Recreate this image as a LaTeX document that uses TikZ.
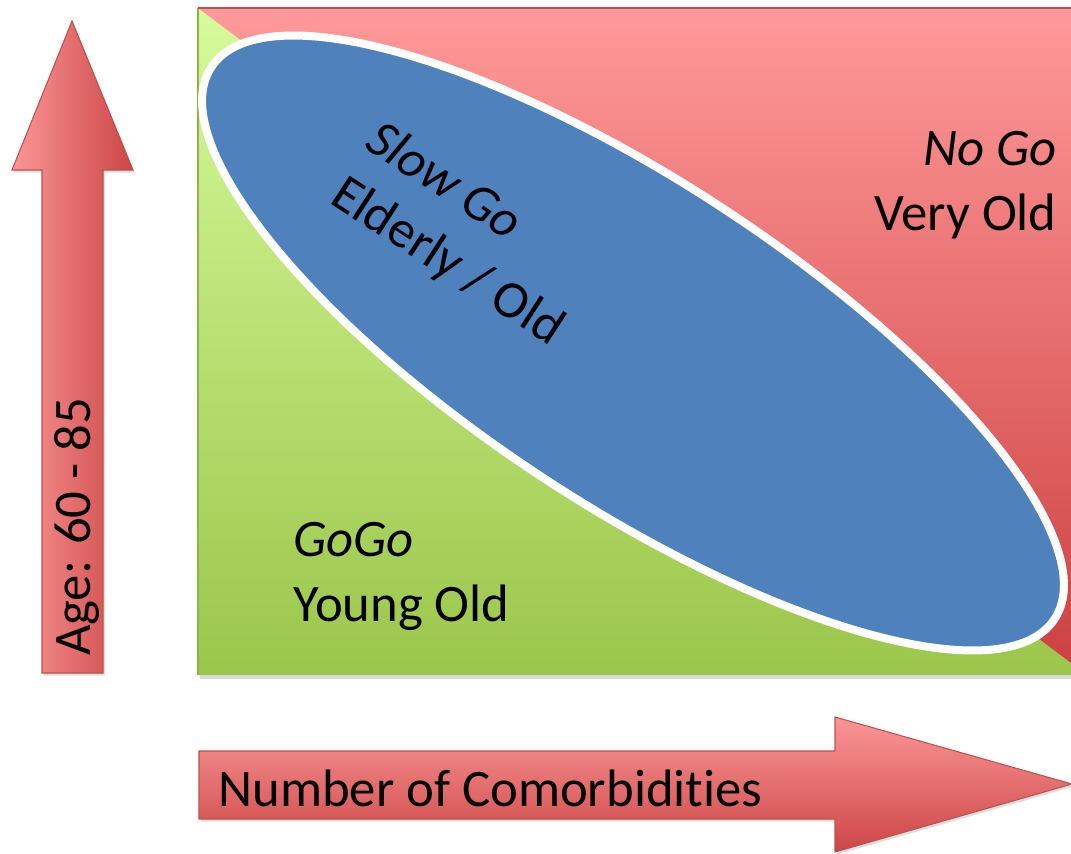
\documentclass[tikz,border=0pt]{standalone}
\usepackage{fontspec}
\setmainfont{Carlito}[RawFeature={-liga;-clig;-dlig;-rlig;-calt}]
\usetikzlibrary{shapes.geometric,shadows}
\definecolor{greentop}{RGB}{215,250,155}
\definecolor{greenbot}{RGB}{155,198,75}
\definecolor{greenedge}{RGB}{140,180,75}
\definecolor{redtop}{RGB}{255,153,153}
\definecolor{redmid}{RGB}{244,136,136}
\definecolor{redbot}{RGB}{204,64,64}
\definecolor{rededge}{RGB}{192,80,77}
\definecolor{arrowlight}{RGB}{250,150,150}
\definecolor{arrowmid}{RGB}{236,128,128}
\definecolor{arrowdark}{RGB}{204,70,70}
\definecolor{ellblue}{RGB}{79,129,189}
\begin{document}
\begin{tikzpicture}[x=0.02cm,y=-0.02cm]
\tikzstyle{txt} = [inner sep=0pt, font=\fontsize{30}{37}\selectfont, text=black]
\tikzstyle{redarrow} = [draw=rededge, line width=0.6pt, line join=miter, drop shadow={opacity=0.25, shadow xshift=1pt, shadow yshift=-1.5pt}]
\useasboundingbox (0,0) rectangle (1071,853);
\clip (0,0) rectangle (1071,853);
% the age / comorbidity square
\path[fill=white, drop shadow={opacity=0.3, shadow xshift=1pt, shadow yshift=-2pt}] (198,8) rectangle (1087,675);
\path[top color=greentop, bottom color=greenbot] (198,8) -- (198,675) -- (1087,675) -- cycle;
\draw[greenedge, line width=0.8pt] (198,675) -- (198,8);
\path[top color=redtop, middle color=redmid, bottom color=redbot] (198,8) -- (1087,8) -- (1087,675) -- cycle;
\draw[rededge, line width=1.2pt] (198,8) -- (1087,8);
% slow go zone
\node (slowzone) [ellipse, draw=white, line width=0.16cm, fill=ellblue, inner sep=0pt,
  minimum width=20.16cm, minimum height=6.48cm, rotate=-33.2,
  drop shadow={opacity=0.3, shadow xshift=0.5pt, shadow yshift=-2pt}] at (633,343) {};
% axes
\path[redarrow, left color=arrowlight, middle color=arrowmid, right color=arrowdark]
  (72,21) -- (133,170) -- (103,170) -- (103,673) -- (42,673) -- (42,170) -- (12,170) -- cycle;
\path[redarrow, top color=arrowlight, middle color=arrowmid, bottom color=arrowdark]
  (199,751) -- (835,751) -- (835,717) -- (1072,784) -- (835,852) -- (835,819) -- (199,819) -- cycle;
% texts
\node (nogo) [txt, anchor=base east] at (1057,165) {\textit{No Go}};
\node (veryold) [txt, anchor=base east] at (1057,230) {Very Old};
\node (slowgo) [txt, align=left, anchor=base west, rotate=-33] at (328,202) {\textit{Slow Go}\\Elderly / Old};
\node (gogo) [txt, anchor=base west] at (293,556) {\textit{GoGo}};
\node (youngold) [txt, anchor=base west] at (293,621) {Young Old};
\node (age) [txt, anchor=base, rotate=90] at (90,527) {Age: 60 - 85};
\node (comorb) [txt, anchor=base west] at (218,806) {Number of Comorbidi\kern0pt ties};
\end{tikzpicture}
\end{document}
